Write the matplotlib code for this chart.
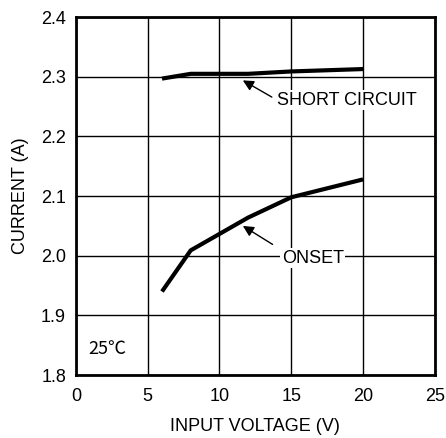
import numpy as np
import matplotlib.pyplot as plt

plt.rcParams['font.family'] = ['Liberation Sans', 'DejaVu Sans']

#%% data
voltage = [6, 8, 12, 15, 20]
short_circuit = [2.297, 2.305, 2.305, 2.309, 2.313]
onset = [1.940, 2.009, 2.064, 2.098, 2.128]

x_ticks = [0, 5, 10, 15, 20, 25]
y_ticks = [1.8, 1.9, 2.0, 2.1, 2.2, 2.3, 2.4]

#%% plot
fig = plt.figure(figsize=(4.46, 4.38), dpi=100)
ax = fig.add_axes([0.170, 0.1438, 0.805, 0.817])

ax.plot(voltage, short_circuit, color='black', lw=3, solid_capstyle='butt', zorder=3)
ax.plot(voltage, onset, color='black', lw=3, solid_capstyle='butt', zorder=3)

ax.set_xlim(0, 25)
ax.set_ylim(1.8, 2.4)
ax.set_xticks(x_ticks)
ax.set_yticks(y_ticks)
ax.set_xticklabels([str(t) for t in x_ticks])
ax.set_yticklabels(['%.1f' % t for t in y_ticks])
ax.tick_params(axis='x', length=0, labelsize=13, pad=9)
ax.tick_params(axis='y', length=0, labelsize=13, pad=7)
ax.grid(True, color='black', lw=1)
for s in ax.spines.values():
    s.set_linewidth(2)

ax.set_xlabel('INPUT VOLTAGE (V)', fontsize=13, labelpad=10)
ax.set_ylabel('CURRENT (A)', fontsize=13, labelpad=9)

# annotations
arrow = dict(arrowstyle='-|>', color='black', lw=1, mutation_scale=16, shrinkA=0, shrinkB=0)
ax.annotate('', xy=(11.63, 2.294), xytext=(13.65, 2.266), arrowprops=arrow)
ax.text(14.0, 2.261, 'SHORT CIRCUIT', fontsize=13, va='center', ha='left',
        bbox=dict(facecolor='white', edgecolor='none', pad=1), zorder=4)
ax.annotate('', xy=(11.63, 2.050), xytext=(13.7, 2.019), arrowprops=arrow)
ax.text(14.35, 1.996, 'ONSET', fontsize=13, va='center', ha='left',
        bbox=dict(facecolor='white', edgecolor='none', pad=1), zorder=4)
ax.text(0.84, 1.844, '25\u2103', fontsize=13, va='center', ha='left',
        family=['Noto Sans CJK JP', 'DejaVu Sans'])

fig.savefig('out.png', dpi=100)
